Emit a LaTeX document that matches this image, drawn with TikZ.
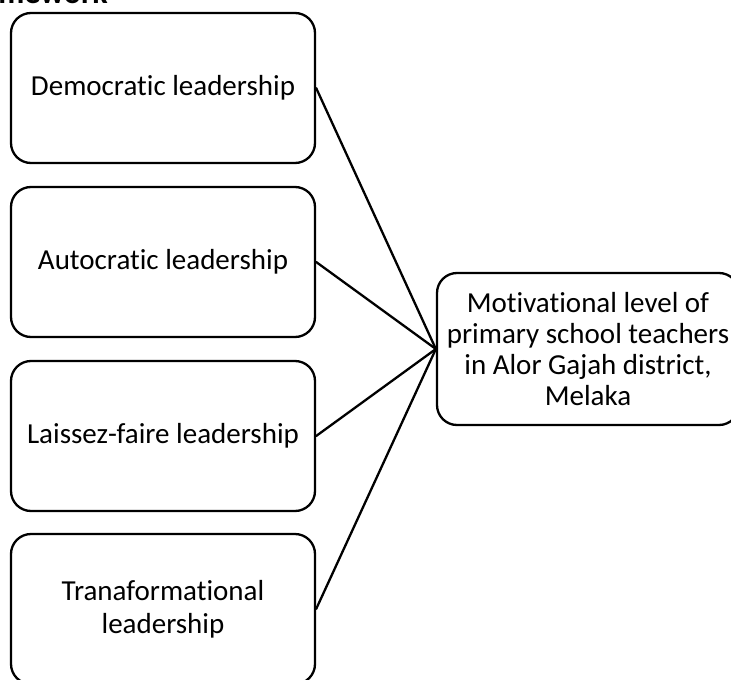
\documentclass[tikz,border=0pt]{standalone}
\usepackage{fontspec}
\setmainfont[Ligatures=NoCommon]{Carlito}
\begin{document}
\begin{tikzpicture}[x=1pt,y=-1pt,
  lbox/.style={draw=black,line width=2.3pt,rounded corners=20pt,minimum width=304pt,minimum height=150pt,align=center,inner sep=0pt,font=\fontsize{29}{33}\selectfont},
  rbox/.style={draw=black,line width=2.3pt,rounded corners=20pt,minimum width=302pt,minimum height=152pt,align=center,inner sep=0pt,font=\fontsize{29}{31}\selectfont},
  link/.style={line width=2.3pt,line cap=round}]
\useasboundingbox (0,0) rectangle (731,680);
\clip (0,0) rectangle (731,680);
\node[anchor=base east,font=\bfseries\fontsize{32}{33}\selectfont,inner sep=0pt] (title) at (108,4) {Framework};
\node[lbox] (b1) at (163,88) {Democratic leadership};
\node[lbox] (b2) at (163,262) {Autocratic leadership};
\node[lbox] (b3) at (163,436) {Laissez-faire leadership};
\node[lbox] (b4) at (163,609) {Tranaformational\\leadership};
\node[rbox] (m) at (588,349) {Motivational level of\\primary school teachers\\in Alor Gajah district,\\Melaka};
\draw[link] (b1.east) -- (m.west);
\draw[link] (b2.east) -- (m.west);
\draw[link] (b3.east) -- (m.west);
\draw[link] (b4.east) -- (m.west);
\end{tikzpicture}
\end{document}
